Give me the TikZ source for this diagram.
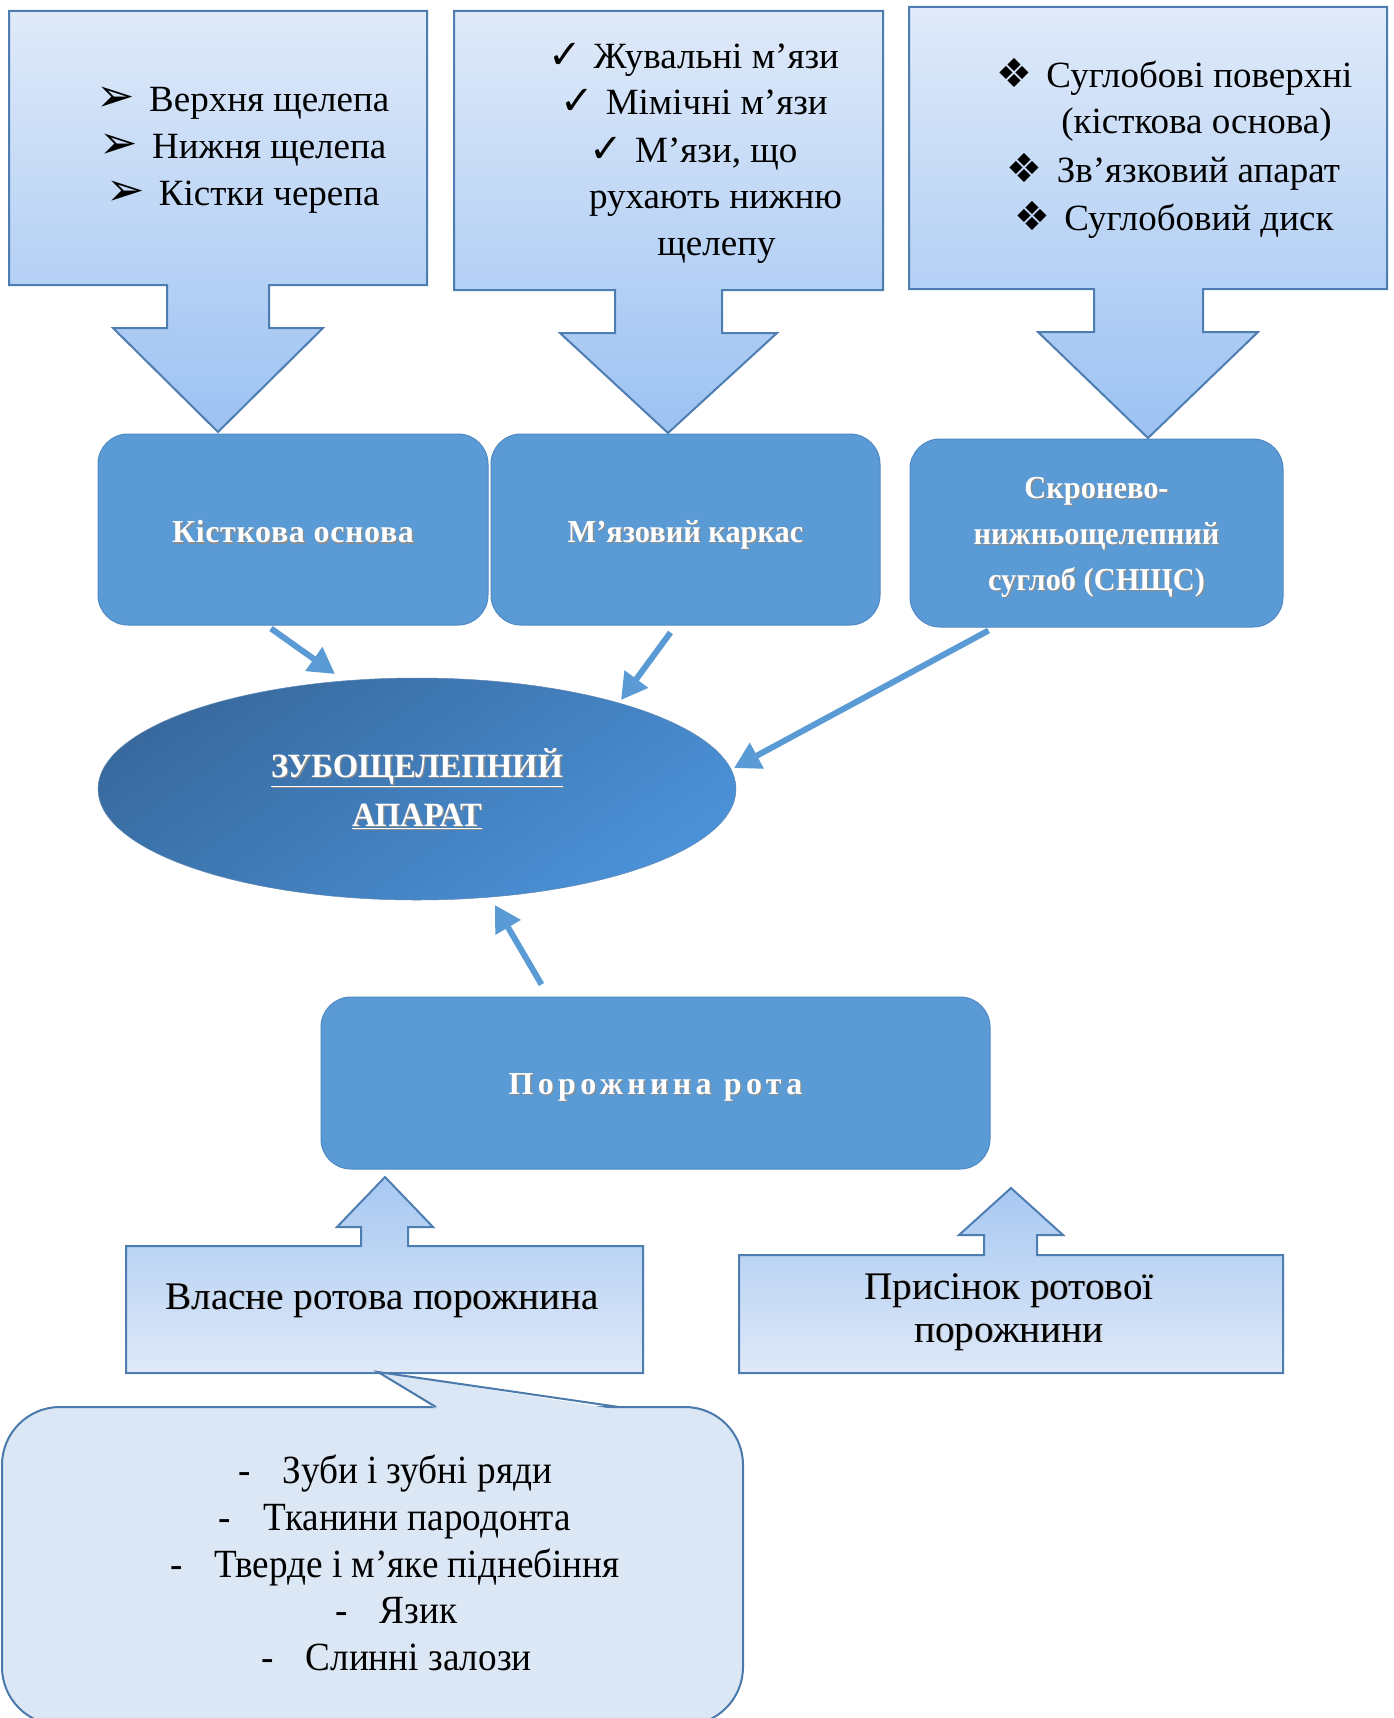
\documentclass[tikz,border=0pt]{standalone}
\usepackage{fontspec}
\setmainfont{Liberation Serif}
\newfontfamily\symfont{DejaVu Sans}
\newfontfamily\kfont[LetterSpace=2]{Liberation Serif}
\newfontfamily\mfont[FakeStretch=0.95]{Liberation Serif}
\newfontfamily\pfont[LetterSpace=13.5]{Liberation Serif}
\newfontfamily\cfont[FakeStretch=0.93]{Liberation Serif}
\newfontfamily\efont[FakeStretch=0.96]{Liberation Serif}
\usetikzlibrary{arrows.meta,shapes.geometric,calc}
\definecolor{boxblue}{HTML}{5B9BD5}
\definecolor{boxedge}{HTML}{4F88C2}
\definecolor{lightedge}{HTML}{4E7DB1}
\definecolor{gradtop}{HTML}{E0EAF9}
\definecolor{gradbot}{HTML}{9CC2F2}
\definecolor{gradup}{HTML}{A7C8F2}
\definecolor{gradlow}{HTML}{DFE9F8}
\definecolor{ellA}{HTML}{386A9F}
\definecolor{ellB}{HTML}{4B91D7}
\definecolor{callfill}{HTML}{DCE7F5}
\definecolor{calledge}{HTML}{4A79AC}
\newcommand\bul[2]{{\symfont\fontsize{#1}{#1}\selectfont #2}}
\newcommand\shd[1]{\makebox[0pt][l]{\hspace{1.3pt}\raisebox{-1.3pt}{\textcolor{black!45}{#1}}}#1}
\newcommand\dsh[1]{\makebox[0pt][l]{\hspace{0.8pt}\raisebox{-0.8pt}{\textcolor{black!35}{#1}}}#1}
\newcommand\lowr[2]{\raisebox{-#1}[\height][\depth]{#2}}
\begin{document}
\begin{tikzpicture}[x=1pt,y=-1pt,
  topshape/.style={draw=lightedge,line width=2pt,top color=gradtop,bottom color=gradbot,line join=miter},
  botshape/.style={draw=lightedge,line width=2pt,top color=gradup,bottom color=gradlow,line join=miter},
  lt/.style={anchor=base,inner sep=0,font=\fontsize{37}{47}\selectfont},
  ct/.style={anchor=base,inner sep=0,font=\fontsize{39}{47}\selectfont},
  cl/.style={anchor=base,inner sep=0,font=\cfont\fontsize{40}{47}\selectfont},
  rbox/.style={rectangle,rounded corners=30pt,fill=boxblue,draw=boxedge,line width=1pt,
    text=white,align=center,inner sep=0},
  bfs/.style={font=#1\bfseries\fontsize{32}{46}\selectfont},
  conn/.style={draw=boxblue,line width=6pt,-{Triangle[length=26pt,width=28pt]}}
]
\fill[white] (0,0) rectangle (1394,1718);
\useasboundingbox (0,0) rectangle (1394,1718);

% top block arrows
\draw[topshape] (9,11) -- (427,11) -- (427,285) -- (269,285) -- (269,328) -- (323,328)
  -- (218,432) -- (113,328) -- (167,328) -- (167,285) -- (9,285) -- cycle;
\draw[topshape] (454,11) -- (883,11) -- (883,290) -- (722,290) -- (722,333) -- (777,333)
  -- (668,433) -- (560,333) -- (615,333) -- (615,290) -- (454,290) -- cycle;
\draw[topshape] (909,7) -- (1387,7) -- (1387,289) -- (1203,289) -- (1203,332) -- (1258,332)
  -- (1148,438) -- (1038,332) -- (1094,332) -- (1094,289) -- (909,289) -- cycle;

\node[lt] (l1) at (243,112) {\bul{46}{➢}\hspace{14pt}Верхня щелепа};
\node[lt] (l2) at (243,158) {\bul{46}{➢}\hspace{14pt}Нижня щелепа};
\node[lt] (l3) at (243,205) {\bul{46}{➢}\hspace{14pt}Кістки черепа};

\node[lt] (m1) at (693.5,69) {\bul{40}{✓}\hspace{12pt}Жувальні м’язи};
\node[lt] (m2) at (694,115) {\bul{40}{✓}\hspace{12pt}Мімічні м’язи};
\node[lt] (m3) at (693.5,162) {\bul{40}{✓}\hspace{12pt}М’язи, що};
\node[lt] (m4) at (715.5,208) {рухають нижню};
\node[lt] (m5) at (716.5,255) {щелепу};

\node[lt] (r1) at (1174.5,88) {\bul{40}{❖}\hspace{14pt}Суглобові поверхні};
\node[lt] (r2) at (1196.5,133) {(кісткова основа)};
\node[lt] (r3) at (1173.5,182) {\bul{40}{❖}\hspace{14pt}Зв’язковий апарат};
\node[lt] (r4) at (1174,230) {\bul{40}{❖}\hspace{14pt}Суглобовий диск};

% blue rounded boxes
\node[rbox,bfs=\kfont,minimum width=390pt,minimum height=191pt] (kist) at (293,529.5)
  {\lowr{3pt}{\shd{Кісткова основа}}};
\node[rbox,bfs=\mfont,minimum width=389pt,minimum height=191pt] (myaz) at (685.5,529.5)
  {\lowr{6pt}{\shd{М’язовий каркас}}};
\node[rbox,bfs=\mfont,minimum width=373pt,minimum height=188pt] (snsc) at (1096.5,533)
  {\lowr{5pt}{\shd{Скронево-}}\\\lowr{5pt}{\shd{нижньощелепний}}\\\lowr{5pt}{\shd{суглоб (СНЩС)}}};
\node[rbox,bfs=\pfont,minimum width=669pt,minimum height=172pt] (por) at (655.5,1083)
  {\lowr{5pt}{\shd{Порожнина рота}}};

% ellipse
\node[ellipse,minimum width=638pt,minimum height=222pt,inner sep=0,
  top color=ellA,bottom color=ellB,shading angle=35,draw=ellA!80,line width=0.5pt,
  text=white,align=center,font=\efont\bfseries\fontsize{34}{49}\selectfont] (ell) at (417,789)
  {\shd{\underline{ЗУБОЩЕЛЕПНИЙ}}\\\shd{\underline{АПАРАТ}}};

% connectors
\draw[conn] ([xshift=-22pt,yshift=-3pt]kist.south) -- ([xshift=-82pt,yshift=115pt]ell.center);
\draw[conn] ([xshift=-15pt,yshift=-7pt]myaz.south) -- ([xshift=204pt,yshift=89pt]ell.center);
\draw[conn] ([xshift=-108pt,yshift=-3pt]snsc.south) -- ([xshift=317pt,yshift=21pt]ell.center);
\draw[conn] ([xshift=-114pt,yshift=12pt]por.north) -- ([xshift=78pt,yshift=-116pt]ell.center);

% bottom block arrows
\draw[botshape] (126,1246) -- (361,1246) -- (361,1227) -- (337,1227) -- (385,1177) -- (433,1227)
  -- (408,1227) -- (408,1246) -- (643,1246) -- (643,1373) -- (126,1373) -- cycle;
\draw[botshape] (739,1255) -- (984,1255) -- (984,1235) -- (959,1235) -- (1011,1188) -- (1063,1235)
  -- (1037,1235) -- (1037,1255) -- (1283,1255) -- (1283,1373) -- (739,1373) -- cycle;
\node[ct] (vl) at (382,1309) {\dsh{Власне ротова порожнина}};
\node[ct] (pr1) at (1009,1299) {\dsh{Присінок ротової}};
\node[ct] (pr2) at (1009,1342) {\dsh{порожнини}};

% callout
\draw[fill=callfill,draw=calledge,line width=2pt,rounded corners=58pt] (2,1407) rectangle (743,1725);
\fill[callfill] (437,1409.5) -- (378,1372) -- (617,1409.5) -- cycle;
\draw[draw=calledge,line width=2pt,line join=miter] (436,1407) -- (378,1372) -- (619,1407);
\node[cl] (c1) at (395,1483) {-\hspace{32pt}Зуби і зубні ряди};
\node[cl] (c2) at (395,1530) {-\hspace{32pt}Тканини пародонта};
\node[cl] (c3) at (395,1577) {-\hspace{32pt}Тверде і м’яке піднебіння};
\node[cl] (c4) at (396.5,1623) {-\hspace{32pt}Язик};
\node[cl] (c5) at (396.5,1670) {-\hspace{32pt}Слинні залози};
\end{tikzpicture}
\end{document}
